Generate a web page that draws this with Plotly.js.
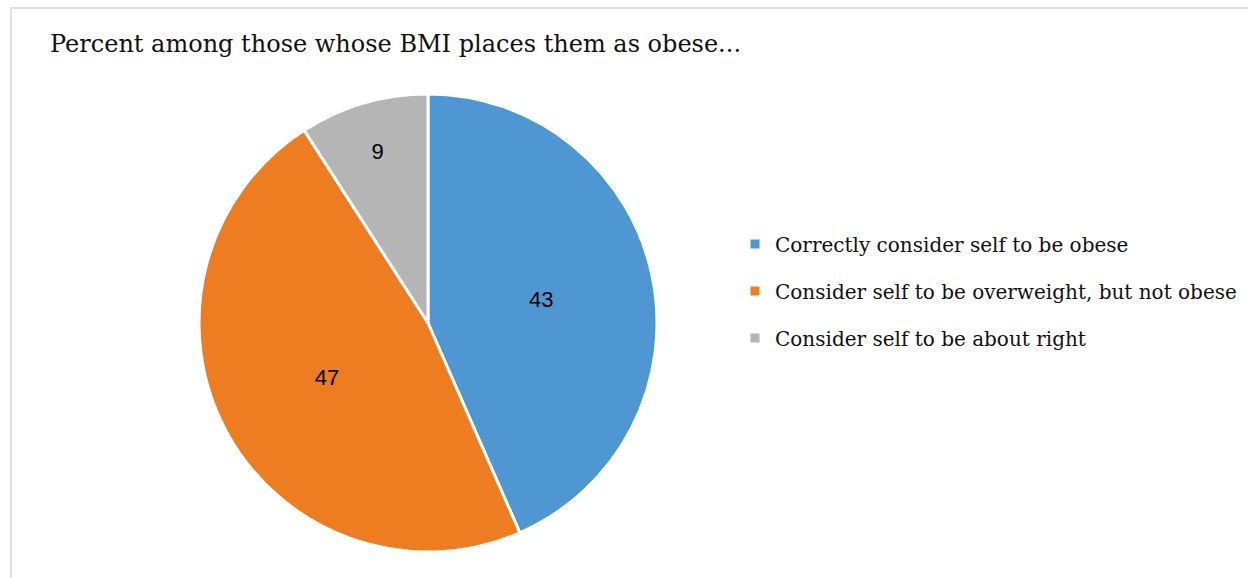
<!DOCTYPE html>
<html>
<head>
<meta charset="utf-8">
<script src="https://cdn.plot.ly/plotly-3.0.1.min.js"></script>
<style>
  html, body { margin: 0; padding: 0; background: #ffffff; }
  #chart { width: 1248px; height: 578px; }
</style>
</head>
<body>
<div id="chart"></div>
<script>
const chartTitle = "Percent among those whose BMI places them as obese...";
const categories = [
  "Correctly consider self to be obese",
  "Consider self to be overweight, but not obese",
  "Consider self to be about right"
];
const percentValues = [43, 47, 9];
const sliceColors = ["#4F97D2", "#EE7D22", "#B5B5B5"];

const W = 1248, H = 578;
const px = v => v / W;
const py = v => 1 - v / H;

const pieTrace = {
  type: "pie",
  labels: categories,
  values: percentValues,
  sort: false,
  direction: "clockwise",
  rotation: 0,
  showlegend: false,
  textinfo: "value",
  textposition: "inside",
  insidetextorientation: "horizontal",
  textfont: { family: "Liberation Sans, Arial, sans-serif", size: 22, color: "#000000" },
  marker: { colors: sliceColors, line: { color: "#ffffff", width: 3 } },
  domain: { x: [px(199), px(657)], y: [py(552), py(94)] },
  hoverinfo: "label+value"
};

const legendTraces = categories.map((c, i) => ({
  type: "scatter",
  mode: "markers",
  x: [null],
  y: [null],
  name: c,
  legendgroup: "g" + i,
  marker: { symbol: "square", size: 9, color: sliceColors[i] },
  showlegend: true,
  hoverinfo: "skip"
}));

const layout = {
  width: W,
  height: H,
  margin: { l: 0, r: 0, t: 0, b: 0 },
  paper_bgcolor: "#ffffff",
  plot_bgcolor: "rgba(0,0,0,0)",
  title: {
    text: chartTitle,
    font: { family: "DejaVu Serif, serif", size: 24, color: "#111111" },
    xref: "container", yref: "container",
    x: px(50), xanchor: "left",
    y: py(44), yanchor: "middle"
  },
  xaxis: { visible: false, range: [0, 1], fixedrange: true },
  yaxis: { visible: false, range: [0, 1], fixedrange: true },
  showlegend: true,
  legend: {
    x: px(735), xanchor: "left",
    y: py(291), yanchor: "middle",
    font: { family: "DejaVu Serif, serif", size: 20, color: "#111111" },
    tracegroupgap: 18,
    traceorder: "grouped",
    bgcolor: "rgba(0,0,0,0)"
  },
  shapes: [{
    type: "rect", xref: "paper", yref: "paper",
    x0: px(11), x1: 1.2, y0: py(8), y1: -0.2,
    line: { color: "#E0E0E0", width: 2 },
    fillcolor: "rgba(0,0,0,0)",
    layer: "below"
  }]
};

Plotly.newPlot("chart", [pieTrace].concat(legendTraces), layout, { displayModeBar: false, staticPlot: true });
</script>
</body>
</html>
